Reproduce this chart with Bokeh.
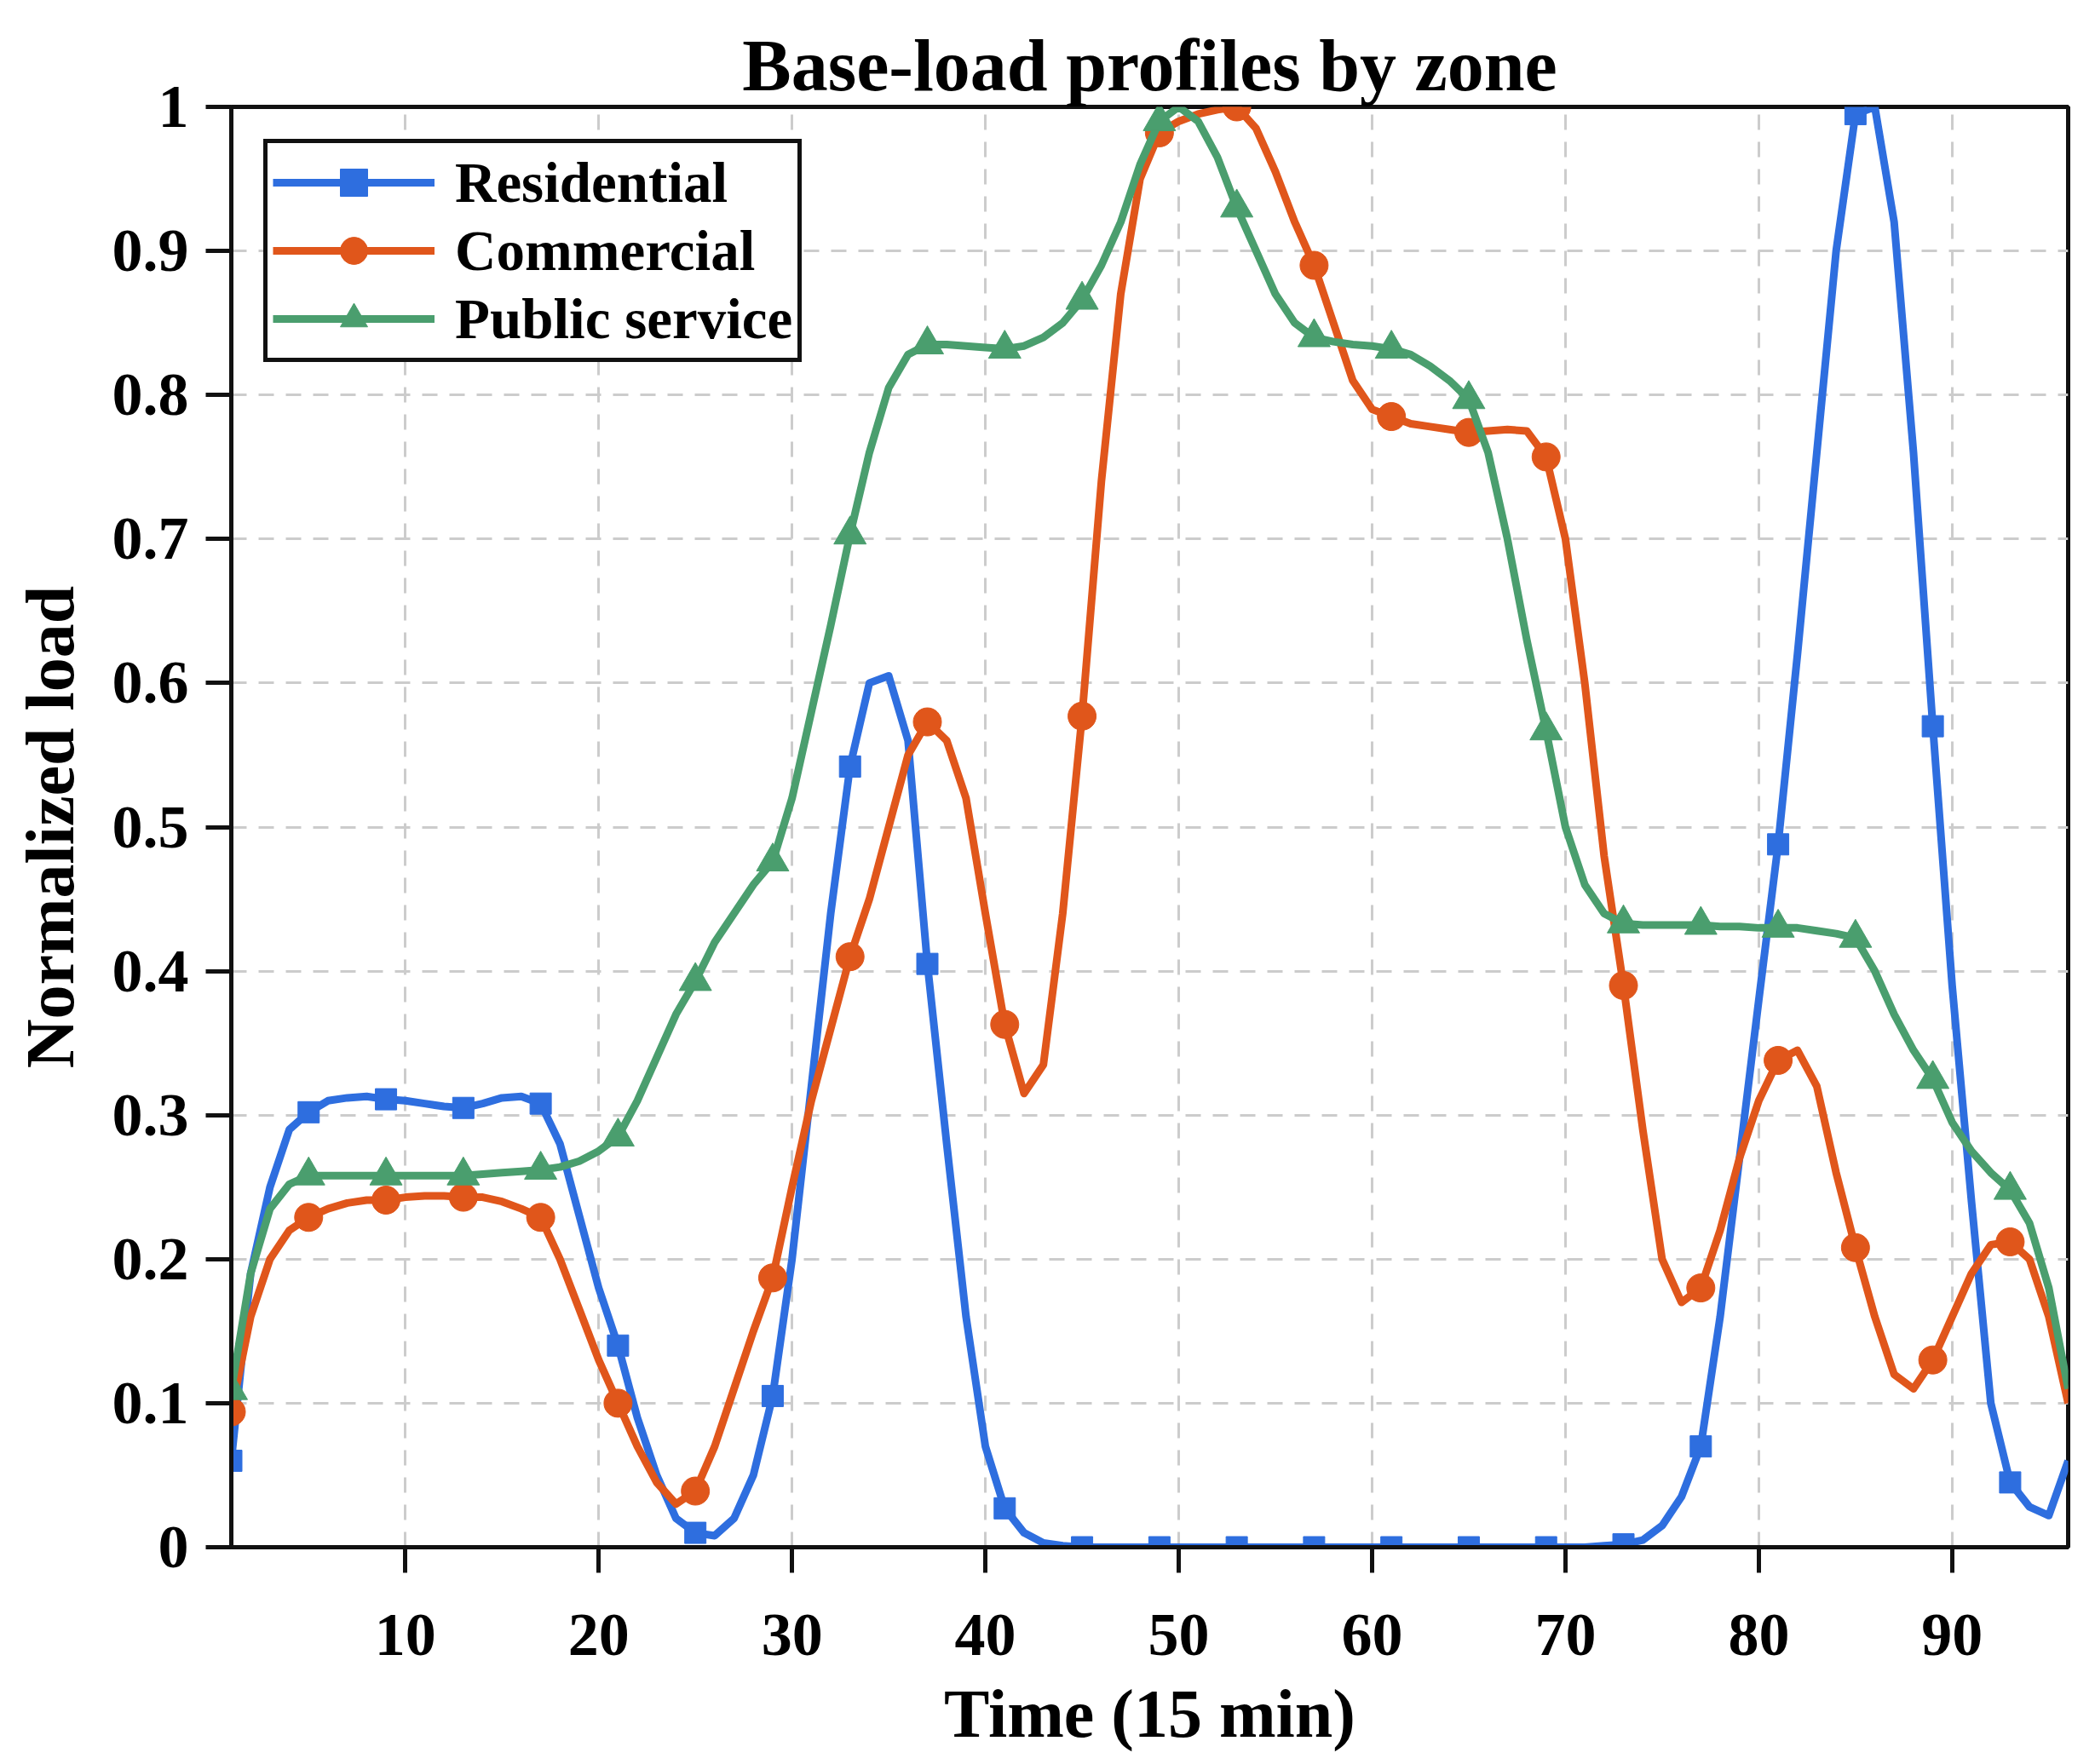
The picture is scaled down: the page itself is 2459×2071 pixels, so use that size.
from bokeh.plotting import figure
from bokeh.embed import file_html
from bokeh.resources import INLINE
from bokeh.models import FixedTicker, Legend, LegendItem, Range1d

time = list(range(1, 97))

residential = [
    0.06, 0.19, 0.25, 0.29, 0.302, 0.31, 0.312, 0.313, 0.311, 0.31,
    0.308, 0.306, 0.305, 0.308, 0.312, 0.313, 0.308, 0.28, 0.23, 0.18,
    0.14, 0.09, 0.05, 0.02, 0.01, 0.008, 0.02, 0.05, 0.105, 0.2,
    0.32, 0.44, 0.542, 0.60, 0.605, 0.56, 0.405, 0.28, 0.16, 0.07,
    0.027, 0.01, 0.003, 0.001, 0.0, 0.0, 0.0, 0.0, 0.0, 0.0,
    0.0, 0.0, 0.0, 0.0, 0.0, 0.0, 0.0, 0.0, 0.0, 0.0,
    0.0, 0.0, 0.0, 0.0, 0.0, 0.0, 0.0, 0.0, 0.0, 0.0,
    0.0, 0.001, 0.002, 0.005, 0.015, 0.035, 0.07, 0.16, 0.27, 0.38,
    0.488, 0.62, 0.76, 0.9, 0.995, 1.0, 0.92, 0.76, 0.57, 0.39,
    0.24, 0.1, 0.045, 0.028, 0.022, 0.06,
]

commercial = [
    0.094, 0.16, 0.20, 0.22, 0.229, 0.235, 0.239, 0.241, 0.241, 0.243,
    0.244, 0.244, 0.243, 0.243, 0.24, 0.235, 0.229, 0.2, 0.165, 0.13,
    0.10, 0.07, 0.045, 0.03, 0.039, 0.07, 0.11, 0.15, 0.187, 0.25,
    0.31, 0.36, 0.41, 0.45, 0.50, 0.55, 0.573, 0.56, 0.52, 0.44,
    0.363, 0.315, 0.335, 0.44, 0.577, 0.74, 0.87, 0.95, 0.982, 0.99,
    0.995, 0.998, 1.0, 0.985, 0.955, 0.92, 0.89, 0.85, 0.81, 0.79,
    0.785, 0.78, 0.778, 0.776, 0.774, 0.775, 0.776, 0.775, 0.757, 0.70,
    0.60, 0.48, 0.39, 0.29, 0.20, 0.17, 0.18, 0.22, 0.27, 0.31,
    0.338, 0.345, 0.32, 0.26, 0.208, 0.16, 0.12, 0.11, 0.13, 0.16,
    0.19, 0.21, 0.212, 0.20, 0.16, 0.10,
]

public_service = [
    0.109, 0.19, 0.235, 0.252, 0.258, 0.258, 0.258, 0.258, 0.258, 0.258,
    0.258, 0.258, 0.258, 0.259, 0.26, 0.261, 0.262, 0.264, 0.268, 0.275,
    0.285, 0.31, 0.34, 0.37, 0.393, 0.42, 0.44, 0.46, 0.476, 0.52,
    0.58, 0.64, 0.703, 0.76, 0.805, 0.828, 0.835, 0.835, 0.834, 0.833,
    0.832, 0.834, 0.84, 0.85, 0.866, 0.89, 0.92, 0.96, 0.99, 1.0,
    0.99, 0.965, 0.93, 0.90, 0.87, 0.85, 0.84, 0.837, 0.835, 0.834,
    0.832, 0.828, 0.82, 0.81, 0.797, 0.76, 0.70, 0.63, 0.567, 0.50,
    0.46, 0.44, 0.433, 0.432, 0.432, 0.432, 0.432, 0.431, 0.431, 0.43,
    0.43, 0.43, 0.428, 0.426, 0.423, 0.40, 0.37, 0.345, 0.325, 0.295,
    0.275, 0.26, 0.248, 0.225, 0.18, 0.11,
]

marker_step = 4
x_ticks = [10, 20, 30, 40, 50, 60, 70, 80, 90]
y_ticks = [0, 0.1, 0.2, 0.3, 0.4, 0.5, 0.6, 0.7, 0.8, 0.9, 1]
y_tick_labels = ["0", "0.1", "0.2", "0.3", "0.4", "0.5", "0.6", "0.7", "0.8", "0.9", "1"]

names = ["Residential", "Commercial", "Public service"]
colors = ["#2E6EDF", "#E0561B", "#4A9E6E"]
markers = ["square", "circle", "triangle"]
msizes = [25, 33, 38]

FONT = "Liberation Serif"

p = figure(width=2448, height=2058, output_backend="svg", toolbar_location=None,
           x_range=Range1d(1, 96), y_range=Range1d(0, 1),
           min_border_left=271, min_border_right=21, min_border_top=125,
           min_border_bottom=230)

p.title.text = "Base-load profiles by zone"
p.title.align = "center"
p.title.text_font = FONT
p.title.text_font_style = "bold"
p.title.text_font_size = "86px"
p.title.text_color = "black"
p.title.standoff = 2

p.background_fill_color = "white"
p.border_fill_color = "white"
p.outline_line_color = "#111111"
p.outline_line_width = 5
p.outline_line_alpha = 1.0

for ax in (p.xaxis[0], p.yaxis[0]):
    ax.axis_line_width = 5
    ax.axis_line_color = "#111111"
    ax.major_tick_line_width = 5
    ax.major_tick_line_color = "#111111"
    ax.major_tick_out = 30
    ax.major_tick_in = 0
    ax.minor_tick_line_color = None
    ax.major_label_text_font = FONT
    ax.major_label_text_font_style = "bold"
    ax.major_label_text_font_size = "72px"
    ax.major_label_text_color = "black"
    ax.axis_label_text_font = FONT
    ax.axis_label_text_font_style = "bold"
    ax.axis_label_text_font_size = "80px"
    ax.axis_label_text_color = "black"

p.xaxis.ticker = FixedTicker(ticks=x_ticks)
p.yaxis.ticker = FixedTicker(ticks=y_ticks)
p.yaxis.major_label_overrides = {t: l for t, l in zip(y_ticks, y_tick_labels)}
p.xaxis.axis_label = "Time (15 min)"
p.yaxis.axis_label = "Normalized load"
p.xaxis.major_label_standoff = 49
p.yaxis.major_label_standoff = 20
p.xaxis.axis_label_standoff = 22
p.yaxis.axis_label_standoff = 26

for g in (p.xgrid[0], p.ygrid[0]):
    g.grid_line_color = "#cccccc"
    g.grid_line_width = 3
    g.grid_line_dash = "18 14"
p.xgrid.ticker = FixedTicker(ticks=x_ticks)
p.ygrid.ticker = FixedTicker(ticks=y_ticks)

items = []
for name, series, c, m, s in zip(names, [residential, commercial, public_service], colors, markers, msizes):
    ln = p.line(time, series, line_color=c, line_width=9, line_join="round")
    sc = p.scatter(time[::marker_step], series[::marker_step], marker=m, size=s,
                   fill_color=c, line_color=c)
    items.append(LegendItem(label=name, renderers=[ln, sc]))

legend = Legend(items=items, location="top_left")
legend.label_text_font = FONT
legend.label_text_font_style = "bold"
legend.label_text_font_size = "67px"
legend.label_text_color = "black"
legend.glyph_width = 190
legend.glyph_height = 80
legend.label_height = 80
legend.spacing = 0
legend.padding = 6
legend.margin = 38
legend.label_standoff = 24
legend.border_line_color = "#111111"
legend.border_line_width = 5
legend.border_line_alpha = 1.0
legend.background_fill_color = "white"
legend.background_fill_alpha = 1.0
p.add_layout(legend, "center")

open("out.html", "w").write(file_html(p, INLINE))
